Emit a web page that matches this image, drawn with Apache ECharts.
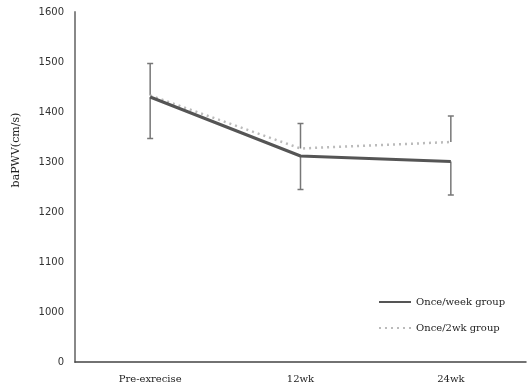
<!DOCTYPE html>
<html><head><meta charset="utf-8">
<script src="https://cdn.jsdelivr.net/npm/echarts@6/dist/echarts.min.js"></script>
<style>html,body{margin:0;padding:0;background:#fff}#c{width:531px;height:387px}</style>
</head><body><div id="c"></div>
<script>
const categories = ['Pre-exrecise', '12wk', '24wk'];
const onceWeek = [1430, 1312, 1301];
const onceWeekErrMinus = [83, 67, 67];
const once2wk = [1433, 1327, 1340];
const once2wkErrPlus = [64, 50, 52];
const yTicks = [0, 1000, 1100, 1200, 1300, 1400, 1500, 1600];
const axisBreakBase = 900; // displayed as "0"

const chart = echarts.init(document.getElementById('c'));
function errSeries(name, vals, errs, dir) {
  return {
    type: 'custom', name: name, silent: true, z: 1,
    data: vals.map((v, i) => [i, v, v + dir * errs[i]]),
    renderItem: function (params, api) {
      const p0 = api.coord([api.value(0), api.value(1)]);
      const p1 = api.coord([api.value(0), api.value(2)]);
      const w = 3;
      const st = { stroke: '#777', lineWidth: 1.5 };
      return { type: 'group', children: [
        { type: 'line', shape: { x1: p0[0], y1: p0[1], x2: p1[0], y2: p1[1] }, style: st },
        { type: 'line', shape: { x1: p1[0] - w, y1: p1[1], x2: p1[0] + w, y2: p1[1] }, style: st }
      ]};
    }
  };
}
chart.setOption({
  animation: false,
  grid: { left: 75, right: 5, top: 12, bottom: 25, containLabel: false },
  graphic: [{
    type: 'text', x: 16, y: 150, rotation: Math.PI / 2,
    style: { text: 'baPWV(cm/s)', fontFamily: 'DejaVu Serif', fontSize: 11, fill: '#222',
      align: 'center', verticalAlign: 'middle' }
  }],
  legend: {
    orient: 'vertical', left: 373, top: 292, itemGap: 16, itemWidth: 32, itemHeight: 10,
    itemStyle: { opacity: 0 },
    data: ['Once/week group', 'Once/2wk group'],
    textStyle: { fontFamily: 'DejaVu Serif', fontSize: 10, color: '#222' }
  },
  xAxis: {
    type: 'category', data: categories, boundaryGap: true,
    axisLine: { lineStyle: { color: '#444', width: 1.5 } },
    axisTick: { show: false },
    axisLabel: { fontFamily: 'DejaVu Serif', fontSize: 10, color: '#222', margin: 12 }
  },
  yAxis: {
    type: 'value', min: axisBreakBase, max: 1600, interval: 100,
    axisLine: { show: true, lineStyle: { color: '#888', width: 2 } },
    axisTick: { show: false },
    splitLine: { show: false },
    axisLabel: {
      fontFamily: 'DejaVu Sans', fontSize: 10, color: '#333', margin: 11,
      formatter: v => String(v === axisBreakBase ? yTicks[0] : v)
    }
  },
  series: [
    errSeries('errA', onceWeek, onceWeekErrMinus, -1),
    errSeries('errB', once2wk, once2wkErrPlus, 1),
    { name: 'Once/2wk group', type: 'line', data: once2wk, symbol: 'none', z: 2,
      lineStyle: { color: '#bbb', width: 2.5, type: [2, 4] }, itemStyle: { color: '#bbb' } },
    { name: 'Once/week group', type: 'line', data: onceWeek, symbol: 'none', z: 3,
      lineStyle: { color: '#555', width: 3 }, itemStyle: { color: '#555' } }
  ]
});
</script></body></html>
